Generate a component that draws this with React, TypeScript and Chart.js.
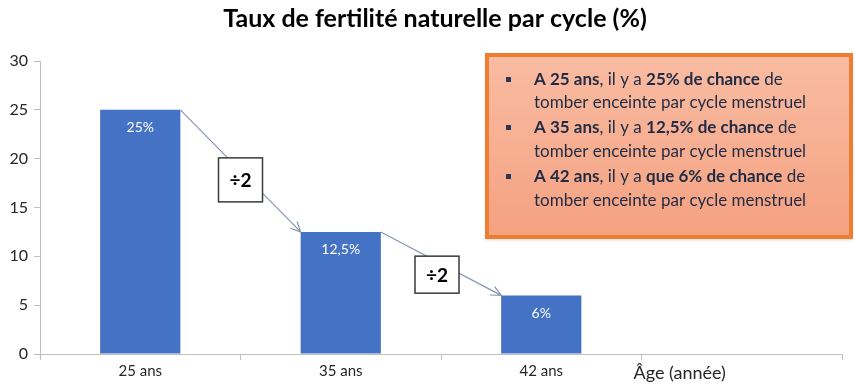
import React, { useEffect, useRef } from "react";
import { Chart, registerables } from "chart.js";
Chart.register(...registerables);

const chartTitle = "Taux de fertilité naturelle par cycle (%)";
const categories = ["25 ans", "35 ans", "42 ans", ""];
const values: (number | null)[] = [25, 12.5, 6, null];
const valueLabels = ["25%", "12,5%", "6%"];
const ratioLabels = ["÷2", "÷2"];
const axisTitle = "Âge (année)";
const yMin = 0;
const yMax = 30;
const yStep = 5;

type Run = { t: string; b: boolean };
const noteLines: { bullet: boolean; runs: Run[] }[] = [
  { bullet: true, runs: [{ t: "A 25 ans", b: true }, { t: ", il y a ", b: false }, { t: "25% de chance", b: true }, { t: " de", b: false }] },
  { bullet: false, runs: [{ t: "tomber enceinte par cycle menstruel", b: false }] },
  { bullet: true, runs: [{ t: "A 35 ans", b: true }, { t: ", il y a ", b: false }, { t: "12,5% de chance", b: true }, { t: " de", b: false }] },
  { bullet: false, runs: [{ t: "tomber enceinte par cycle menstruel", b: false }] },
  { bullet: true, runs: [{ t: "A 42 ans", b: true }, { t: ", il y a ", b: false }, { t: "que 6% de chance", b: true }, { t: " de", b: false }] },
  { bullet: false, runs: [{ t: "tomber enceinte par cycle menstruel", b: false }] },
];

const FONT = "Lato, 'Open Sans', sans-serif";

const overlay = {
  id: "overlay",
  afterDraw(chart: any) {
    const ctx: CanvasRenderingContext2D = chart.ctx;
    const meta = chart.getDatasetMeta(0);
    const xs = chart.scales.x;
    ctx.save();

    // Title
    ctx.fillStyle = "#000000";
    ctx.font = `bold 25px ${FONT}`;
    ctx.textAlign = "center";
    ctx.textBaseline = "middle";
    ctx.fillText(chartTitle, 435, 19);

    // Orange note box
    const bx = 487, by = 55, bw = 364, bh = 182;
    ctx.save();
    ctx.shadowColor = "rgba(0,0,0,0.25)";
    ctx.shadowBlur = 4;
    ctx.shadowOffsetY = 2;
    const g = ctx.createLinearGradient(0, by, 0, by + bh);
    g.addColorStop(0, "#f9bca2");
    g.addColorStop(1, "#f4a181");
    ctx.fillStyle = g;
    ctx.fillRect(bx, by, bw, bh);
    ctx.restore();
    ctx.strokeStyle = "#ed7d31";
    ctx.lineWidth = 4;
    ctx.strokeRect(bx, by, bw, bh);

    const lineYs = [80, 103, 128, 152, 177, 201];
    ctx.textAlign = "left";
    ctx.textBaseline = "middle";
    noteLines.forEach((ln, i) => {
      const y = lineYs[i];
      if (ln.bullet) {
        ctx.fillStyle = "#2a3658";
        ctx.fillRect(506, y - 3, 5, 5);
      }
      let x = 534;
      ln.runs.forEach((r) => {
        ctx.font = `${r.b ? "bold " : ""}17px ${FONT}`;
        ctx.fillStyle = "#1f2a44";
        ctx.fillText(r.t, x, y);
        x += ctx.measureText(r.t).width;
      });
    });

    // Value labels inside bars
    ctx.fillStyle = "#ffffff";
    ctx.font = `14px ${FONT}`;
    ctx.textAlign = "center";
    valueLabels.forEach((lab, i) => {
      const el = meta.data[i];
      if (!el) return;
      ctx.fillText(lab, el.x, el.y + 18);
    });

    // Arrows with ratio boxes
    ratioLabels.forEach((lab, i) => {
      const a = meta.data[i];
      const b = meta.data[i + 1];
      if (!a || !b) return;
      const x1 = a.x + a.width / 2, y1 = a.y;
      const x2 = b.x - b.width / 2, y2 = b.y;
      ctx.strokeStyle = "#8596b3";
      ctx.lineWidth = 1.2;
      ctx.beginPath();
      ctx.moveTo(x1, y1);
      ctx.lineTo(x2, y2);
      ctx.stroke();
      const ang = Math.atan2(y2 - y1, x2 - x1);
      const hl = 11;
      ctx.beginPath();
      ctx.moveTo(x2 - hl * Math.cos(ang - 0.45), y2 - hl * Math.sin(ang - 0.45));
      ctx.lineTo(x2, y2);
      ctx.lineTo(x2 - hl * Math.cos(ang + 0.45), y2 - hl * Math.sin(ang + 0.45));
      ctx.stroke();

      const cx = (x1 + x2) / 2 - (i === 0 ? 0 : 4);
      const cy = (y1 + y2) / 2 + (i === 0 ? 9 : 11);
      const w = 44, h = i === 0 ? 44 : 37;
      ctx.fillStyle = "#ffffff";
      ctx.fillRect(cx - w / 2, cy - h / 2, w, h);
      ctx.strokeStyle = "#3a3a3a";
      ctx.lineWidth = 1.5;
      ctx.strokeRect(cx - w / 2, cy - h / 2, w, h);
      ctx.fillStyle = "#000000";
      ctx.font = `bold 19px ${FONT}`;
      ctx.textAlign = "center";
      ctx.fillText(lab, cx, cy + 1);
    });

    // Axis title in place of last category
    const last = categories.length - 1;
    const bound = (xs.getPixelForValue(last - 1) + xs.getPixelForValue(last)) / 2;
    ctx.fillStyle = "#262626";
    ctx.font = `18px ${FONT}`;
    ctx.textAlign = "left";
    ctx.fillText(axisTitle, bound - 8, 373);

    ctx.restore();
  },
};

export default function App() {
  const ref = useRef<HTMLCanvasElement | null>(null);
  useEffect(() => {
    if (!ref.current) return;
    const chart = new Chart(ref.current, {
      type: "bar",
      data: {
        labels: categories,
        datasets: [
          {
            data: values,
            backgroundColor: "#4472c4",
            borderWidth: 0,
            barPercentage: 0.4,
            categoryPercentage: 1,
          },
        ],
      },
      options: {
        animation: false,
        responsive: false,
        layout: { padding: { top: 61, right: 13, left: 0, bottom: 0 } },
        plugins: { legend: { display: false }, tooltip: { enabled: false }, title: { display: false } },
        scales: {
          x: {
            grid: { display: true, drawOnChartArea: false, offset: true, color: "#bfbfbf", tickLength: 6 },
            border: { color: "#bfbfbf" },
            ticks: { color: "#262626", font: { family: FONT, size: 15 }, padding: 2, maxRotation: 0 },
            afterFit: (s: any) => { s.height = 31; },
          },
          y: {
            min: yMin,
            max: yMax,
            grid: { display: true, drawOnChartArea: false, color: "#bfbfbf", tickLength: 6 },
            border: { color: "#bfbfbf" },
            ticks: { stepSize: yStep, color: "#262626", font: { family: FONT, size: 16 }, padding: 6 },
            afterFit: (s: any) => { s.width = 40; },
          },
        },
      },
      plugins: [overlay],
    } as any);
    return () => chart.destroy();
  }, []);
  return (
    <div style={{ position: "absolute", left: 0, top: 0, width: 855, height: 385, background: "#ffffff" }}>
      <canvas ref={ref} width={855} height={385} style={{ width: 855, height: 385 }} />
    </div>
  );
}
